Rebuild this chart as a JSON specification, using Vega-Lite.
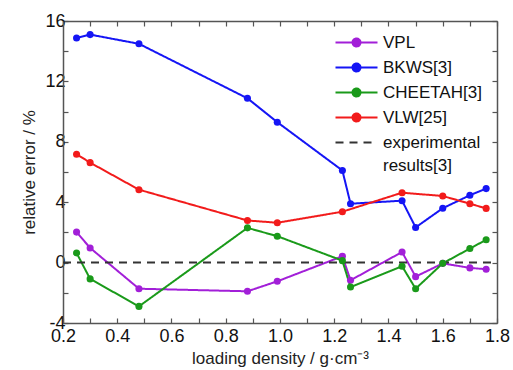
{
  "$schema": "https://vega.github.io/schema/vega-lite/v6.json",
  "width": 434,
  "height": 302,
  "autosize": {"type": "none"},
  "padding": {"left": 63, "top": 21, "right": 16, "bottom": 47},
  "background": "white",
  "config": {
    "view": {"stroke": null},
    "font": "Liberation Sans",
    "axis": {
      "grid": false,
      "domainColor": "#555555",
      "domainWidth": 1.5,
      "tickColor": "#555555",
      "tickWidth": 1.2,
      "tickSize": -5,
      "labelFontSize": 18,
      "labelColor": "#111111",
      "labelFlush": false,
      "labelOverlap": false,
      "titleFontSize": 17,
      "titleFontWeight": "normal",
      "titleColor": "#222222"
    }
  },
  "datasets": {
    "d": [
      {"series": "VPL", "density": 0.25, "error": 2.02},
      {"series": "VPL", "density": 0.30, "error": 0.97},
      {"series": "VPL", "density": 0.48, "error": -1.73},
      {"series": "VPL", "density": 0.88, "error": -1.9},
      {"series": "VPL", "density": 0.99, "error": -1.24},
      {"series": "VPL", "density": 1.23, "error": 0.42},
      {"series": "VPL", "density": 1.26, "error": -1.17},
      {"series": "VPL", "density": 1.45, "error": 0.7},
      {"series": "VPL", "density": 1.50, "error": -0.93},
      {"series": "VPL", "density": 1.60, "error": -0.05},
      {"series": "VPL", "density": 1.70, "error": -0.35},
      {"series": "VPL", "density": 1.76, "error": -0.44},
      {"series": "BKWS[3]", "density": 0.25, "error": 14.88},
      {"series": "BKWS[3]", "density": 0.30, "error": 15.1},
      {"series": "BKWS[3]", "density": 0.48, "error": 14.49},
      {"series": "BKWS[3]", "density": 0.88, "error": 10.88},
      {"series": "BKWS[3]", "density": 0.99, "error": 9.3},
      {"series": "BKWS[3]", "density": 1.23, "error": 6.1},
      {"series": "BKWS[3]", "density": 1.26, "error": 3.9},
      {"series": "BKWS[3]", "density": 1.45, "error": 4.1},
      {"series": "BKWS[3]", "density": 1.50, "error": 2.33},
      {"series": "BKWS[3]", "density": 1.60, "error": 3.6},
      {"series": "BKWS[3]", "density": 1.70, "error": 4.46},
      {"series": "BKWS[3]", "density": 1.76, "error": 4.9},
      {"series": "CHEETAH[3]", "density": 0.25, "error": 0.64},
      {"series": "CHEETAH[3]", "density": 0.30, "error": -1.08},
      {"series": "CHEETAH[3]", "density": 0.48, "error": -2.9},
      {"series": "CHEETAH[3]", "density": 0.88, "error": 2.3},
      {"series": "CHEETAH[3]", "density": 0.99, "error": 1.75},
      {"series": "CHEETAH[3]", "density": 1.23, "error": 0.13},
      {"series": "CHEETAH[3]", "density": 1.26, "error": -1.62},
      {"series": "CHEETAH[3]", "density": 1.45, "error": -0.24},
      {"series": "CHEETAH[3]", "density": 1.50, "error": -1.73},
      {"series": "CHEETAH[3]", "density": 1.60, "error": -0.05},
      {"series": "CHEETAH[3]", "density": 1.70, "error": 0.93},
      {"series": "CHEETAH[3]", "density": 1.76, "error": 1.51},
      {"series": "VLW[25]", "density": 0.25, "error": 7.18},
      {"series": "VLW[25]", "density": 0.30, "error": 6.62},
      {"series": "VLW[25]", "density": 0.48, "error": 4.83},
      {"series": "VLW[25]", "density": 0.88, "error": 2.79},
      {"series": "VLW[25]", "density": 0.99, "error": 2.64},
      {"series": "VLW[25]", "density": 1.23, "error": 3.37},
      {"series": "VLW[25]", "density": 1.45, "error": 4.63},
      {"series": "VLW[25]", "density": 1.60, "error": 4.41},
      {"series": "VLW[25]", "density": 1.70, "error": 3.9},
      {"series": "VLW[25]", "density": 1.76, "error": 3.59},
      {"series": "experimental results[3]", "density": 0.2, "error": 0},
      {"series": "experimental results[3]", "density": 1.8, "error": 0}
    ]
  },
  "data": {"name": "d"},
  "layer": [
    {
      "mark": {"type": "line", "strokeWidth": 2},
      "encoding": {
        "x": {
          "field": "density",
          "type": "quantitative",
          "scale": {"domain": [0.2, 1.8], "nice": false, "zero": false},
          "axis": {
            "orient": "bottom",
            "values": [0.2, 0.3, 0.4, 0.5, 0.6, 0.7, 0.8, 0.9, 1.0, 1.1, 1.2, 1.3, 1.4, 1.5, 1.6, 1.7, 1.8],
            "labelExpr": "round(datum.value*10) % 2 == 0 ? format(datum.value, '.1f') : ''",
            "labelPadding": 9,
            "title": "loading density / g·cm⁻³",
            "titlePadding": 5
          }
        },
        "y": {
          "field": "error",
          "type": "quantitative",
          "scale": {"domain": [-4, 16], "nice": false, "zero": false},
          "axis": {
            "orient": "left",
            "values": [-4, -2, 0, 2, 4, 6, 8, 10, 12, 14, 16],
            "labelExpr": "datum.value % 4 == 0 ? '' + datum.value : ''",
            "labelPadding": 3,
            "title": "relative error / %",
            "titlePadding": 6
          }
        },
        "color": {
          "field": "series",
          "type": "nominal",
          "scale": {
            "domain": ["VPL", "BKWS[3]", "CHEETAH[3]", "VLW[25]", "experimental results[3]"],
            "range": ["#A21FD8", "#1515F5", "#1A9A1A", "#F21B1B", "#333333"]
          },
          "legend": {
            "title": null,
            "orient": "none",
            "legendX": 285,
            "legendY": 13,
            "labelFontSize": 17,
            "labelColor": "#111111",
            "labelLimit": 300,
            "labelOffset": 18,
            "symbolSize": 100,
            "symbolStrokeWidth": 2,
            "rowPadding": 7,
            "labelExpr": "datum.value === 'experimental results[3]' ? ['experimental', 'results[3]'] : datum.value",
            "encode": {
              "symbols": {
                "update": {
                  "shape": {"signal": "datum.value === 'experimental results[3]' ? 'M-4.2,0H4.2' : 'M-4.2,0H4.2M-0.8,0A0.8,0.8 0 1,0 0.8,0A0.8,0.8 0 1,0 -0.8,0Z'"},
                  "fill": {"signal": "datum.value === 'experimental results[3]' ? 'transparent' : scale('color', datum.value)"}
                }
              },
              "labels": {
                "update": {
                  "lineHeight": {"value": 23}
                }
              }
            }
          }
        },
        "strokeDash": {
          "field": "series",
          "type": "nominal",
          "scale": {
            "domain": ["VPL", "BKWS[3]", "CHEETAH[3]", "VLW[25]", "experimental results[3]"],
            "range": [[1, 0], [1, 0], [1, 0], [1, 0], [8, 6]]
          },
          "legend": {
            "title": null,
            "orient": "none",
            "legendX": 285,
            "legendY": 13,
            "labelFontSize": 17,
            "labelColor": "#111111",
            "labelLimit": 300,
            "labelOffset": 18,
            "symbolSize": 100,
            "symbolStrokeWidth": 2,
            "rowPadding": 7,
            "labelExpr": "datum.value === 'experimental results[3]' ? ['experimental', 'results[3]'] : datum.value"
          }
        },
        "order": {"field": "density"}
      }
    },
    {
      "transform": [{"filter": "datum.series !== 'experimental results[3]'"}],
      "mark": {"type": "point", "filled": true, "size": 50, "opacity": 1},
      "encoding": {
        "x": {
          "field": "density",
          "type": "quantitative",
          "scale": {"domain": [0.2, 1.8], "nice": false, "zero": false},
          "axis": {
            "orient": "top",
            "values": [0.2, 0.3, 0.4, 0.5, 0.6, 0.7, 0.8, 0.9, 1.0, 1.1, 1.2, 1.3, 1.4, 1.5, 1.6, 1.7, 1.8],
            "labels": false,
            "title": null
          }
        },
        "y": {
          "field": "error",
          "type": "quantitative",
          "scale": {"domain": [-4, 16], "nice": false, "zero": false},
          "axis": {
            "orient": "right",
            "values": [-4, -2, 0, 2, 4, 6, 8, 10, 12, 14, 16],
            "labels": false,
            "title": null
          }
        },
        "color": {
          "field": "series",
          "type": "nominal",
          "scale": {
            "domain": ["VPL", "BKWS[3]", "CHEETAH[3]", "VLW[25]", "experimental results[3]"],
            "range": ["#A21FD8", "#1515F5", "#1A9A1A", "#F21B1B", "#333333"]
          },
          "legend": null
        }
      }
    }
  ],
  "resolve": {"axis": {"x": "independent", "y": "independent"}}
}
